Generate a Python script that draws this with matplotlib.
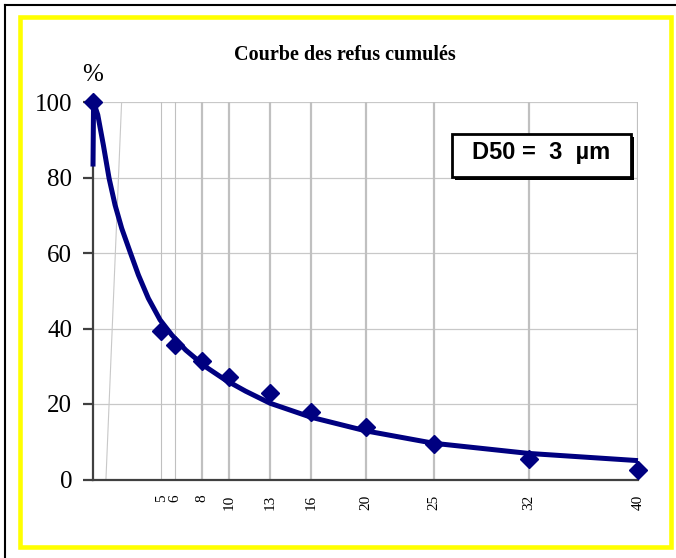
import matplotlib
matplotlib.use('Agg')
import matplotlib.pyplot as plt
from matplotlib.patches import Rectangle
from matplotlib.lines import Line2D

# ---- data ----
sizes = [0, 5, 6, 8, 10, 13, 16, 20, 25, 32, 40]
refus = [100, 39.4, 35.6, 31.4, 27.1, 22.8, 18.0, 13.8, 9.4, 5.3, 2.5]
curve_x = [0, 0.04, 0.35, 0.76, 1.18, 1.62, 2.11, 2.72, 3.33, 4.06, 4.92, 5.78,
           6.8, 8.25, 9.7, 11.2, 13, 16, 20, 25, 32, 40]
curve_y = [82.9, 100, 96.6, 88.6, 79.8, 72.7, 66.5, 60.3, 54.2, 48.0, 42.3, 38.3,
           34.3, 29.9, 26.4, 23.4, 20.2, 16.5, 12.9, 9.6, 6.9, 5.0]
guide_x = [0.95, 2.1]
guide_y = [0, 100]
xticks = [5, 6, 8, 10, 13, 16, 20, 25, 32, 40]
thin_ticks = [5, 6]
yticks = [0, 20, 40, 60, 80, 100]
title = "Courbe des refus cumulés"
d50_text = "D50 =  3  µm"

W, H = 676, 558
fig = plt.figure(figsize=(W / 100, H / 100), dpi=100)
fig.patch.set_facecolor('white')

def fx(x):
    return x / W

def fy(y):
    return 1 - y / H

serif = ['Liberation Serif', 'DejaVu Serif']
navy = '#000080'

# outer borders
fig.add_artist(Line2D([fx(5), fx(5)], [fy(5), 0], color='black', lw=1.5,
                      transform=fig.transFigure))
fig.add_artist(Line2D([fx(5), 1], [fy(5), fy(5)], color='black', lw=1.5,
                      transform=fig.transFigure))
fig.add_artist(Rectangle((fx(19.5), fy(546.5)), fx(670.5) - fx(19.5),
                         fy(16.5) - fy(546.5), fill=False, edgecolor='#ffff00',
                         lw=3.3, transform=fig.transFigure))

# axes
L, R, T, B = 93, 638, 102, 479.5
ax = fig.add_axes([fx(L), fy(B), fx(R) - fx(L), fy(T) - fy(B)])
ax.set_xlim(0, 40)
ax.set_ylim(0, 100)
ax.set_facecolor('none')

for y in yticks[1:]:
    ax.axhline(y, color='#c8c8c8', lw=0.9, zorder=1)
for x in xticks:
    ax.axvline(x, color='#c0c0c0', lw=0.8 if x in thin_ticks else 1.6, zorder=1)
ax.plot(guide_x, guide_y, color='#c8c8c8', lw=0.8, zorder=1)

for s in ['top', 'right']:
    ax.spines[s].set_visible(False)
for s in ['left', 'bottom']:
    ax.spines[s].set_color('#404040')
    ax.spines[s].set_linewidth(1.6)
    ax.spines[s].set_zorder(2)

ax.set_yticks(yticks)
ax.set_yticklabels([str(v) for v in yticks], fontfamily=serif, fontsize=18)
ax.tick_params(axis='y', direction='out', length=7, width=1.6, color='#404040', pad=8)
ax.set_xticks(xticks)
ax.set_xticklabels([str(v) for v in xticks], rotation=90, fontfamily=serif,
                   fontsize=11, va='top')
ax.tick_params(axis='x', length=0, pad=11)

ax.plot(curve_x, curve_y, color=navy, lw=3.6, solid_capstyle='butt',
        solid_joinstyle='round', zorder=3, clip_on=False)
ax.plot(sizes, refus, linestyle='none', marker='D', ms=9, color=navy,
        zorder=4, clip_on=False)

# title and % label
fig.text(fx(345), fy(55), title, ha='center', va='center', fontfamily=serif,
         fontsize=14.5, fontweight='bold')
fig.text(fx(93), fy(75), '%', ha='center', va='center', fontfamily=serif,
         fontsize=18)

# D50 box
fig.add_artist(Rectangle((fx(455), fy(180)), fx(634) - fx(455), fy(137) - fy(180),
                         facecolor='black', edgecolor='none',
                         transform=fig.transFigure, zorder=5))
fig.add_artist(Rectangle((fx(452), fy(176.5)), fx(630.5) - fx(452),
                         fy(134) - fy(176.5), facecolor='white',
                         edgecolor='black', lw=2.0,
                         transform=fig.transFigure, zorder=6))
fig.text(fx(541), fy(153), d50_text, ha='center', va='center',
         fontfamily=['Liberation Sans Narrow', 'Liberation Sans', 'DejaVu Sans'],
         fontsize=17, fontweight='bold', zorder=7)

fig.savefig('out.png', dpi=100)
